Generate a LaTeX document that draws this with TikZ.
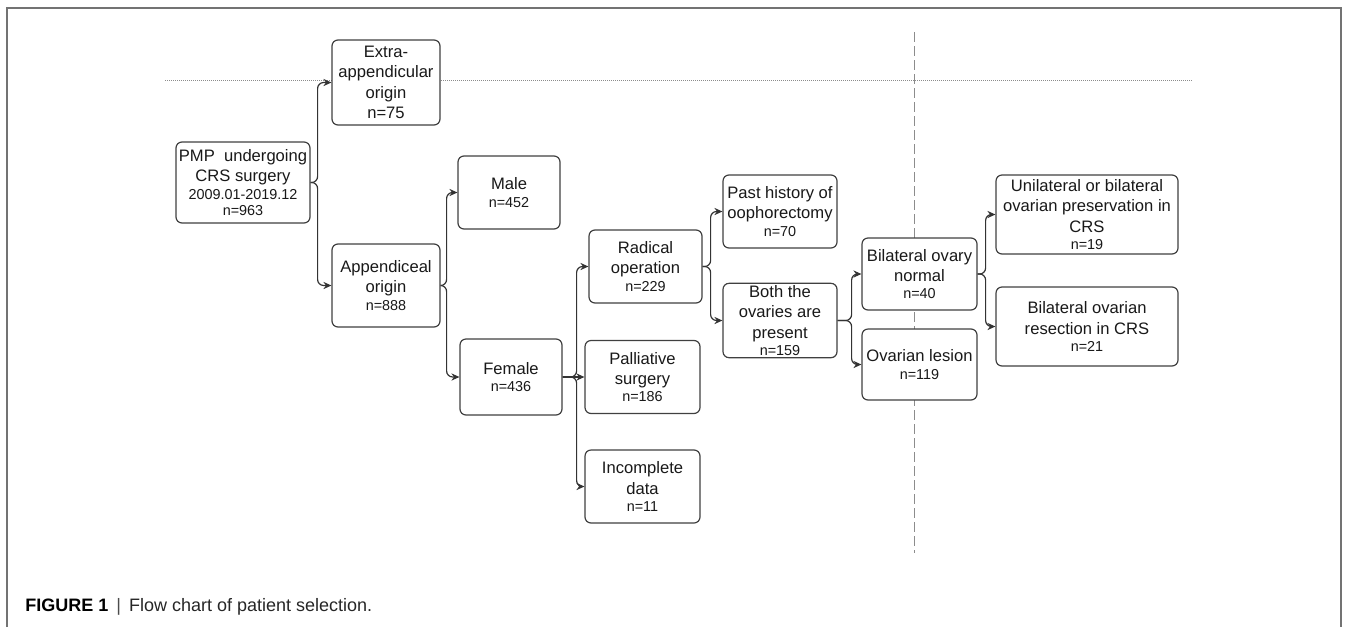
\documentclass[tikz,border=0pt]{standalone}
\usepackage{fontspec}
\setmainfont{Liberation Sans}
\usetikzlibrary{arrows.meta}
\newcommand{\nsmall}[1]{{\fontsize{7.2}{8}\selectfont #1}}

\begin{document}
\begin{tikzpicture}[x=0.5pt, y=-0.5pt, box/.style={draw=black!75, line width=0.6pt, rounded corners=3pt, fill=white, align=center, inner sep=1pt, text=black!90, font=\fontsize{8.3}{10.2}\selectfont}, conn/.style={draw=black!80, line width=0.6pt, rounded corners=3pt, -{Stealth[length=4pt, width=3.6pt]}}]
			\useasboundingbox (0,0) rectangle (1347,627);
			\draw[black!55, line width=0.7pt] (7,627) -- (7,8) -- (1341,8) -- (1341,627);
			\draw[black!45, line width=0.5pt, dash pattern=on 0.5pt off 0.5pt] (165,80) -- (1192,80);
			\draw[black!45, line width=0.5pt, dash pattern=on 5pt off 2pt] (914,32) -- (914,553);
			\node[box, minimum width=67pt, minimum height=40.5pt] (pmp) at (243,182.5) {PMP\ \ undergoing\\ CRS surgery\\[-1.5pt] \nsmall{2009.01-2019.12}\\[-2pt] \nsmall{n=963}};
			\node[box, minimum width=54pt, minimum height=42.5pt] (extra) at (386,82.5) {Extra-\\ appendicular\\ origin\\ n=75};
			\node[box, minimum width=54pt, minimum height=41.5pt] (app) at (386,285.5) {Appendiceal\\ origin\\[-1.5pt] \nsmall{n=888}};
			\node[box, minimum width=51pt, minimum height=36.5pt] (male) at (509,192.5) {Male\\[-1.5pt] \nsmall{n=452}};
			\node[box, minimum width=51pt, minimum height=38pt] (female) at (511,377) {Female\\[-1.5pt] \nsmall{n=436}};
			\node[box, minimum width=56.5pt, minimum height=36.5pt] (radical) at (645.5,266.5) {Radical\\ operation\\[-1.5pt] \nsmall{n=229}};
			\node[box, minimum width=57.5pt, minimum height=36.5pt] (pall) at (642.5,377) {Palliative\\ surgery\\[-1.5pt] \nsmall{n=186}};
			\node[box, minimum width=57.5pt, minimum height=36.5pt] (incomp) at (642.5,486.5) {Incomplete\\ data\\[-1.5pt] \nsmall{n=11}};
			\node[box, minimum width=57pt, minimum height=36.5pt] (past) at (780,211.5) {Past history of\\ oophorectomy\\[-1.5pt] \nsmall{n=70}};
			\node[box, minimum width=57pt, minimum height=36.5pt] (both) at (780,320.5) {Both the\\ ovaries are\\ present\\[-1.5pt] \nsmall{n=159}};
			\node[box, minimum width=57.5pt, minimum height=36pt] (bon) at (919.5,274) {Bilateral ovary\\ normal\\[-1.5pt] \nsmall{n=40}};
			\node[box, minimum width=57.5pt, minimum height=35.5pt] (lesion) at (919.5,364.5) {Ovarian lesion\\[-1.5pt] \nsmall{n=119}};
			\node[box, minimum width=91pt, minimum height=39.5pt] (unil) at (1087,214.5) {Unilateral or bilateral\\ ovarian preservation in\\ CRS\\[-1.5pt] \nsmall{n=19}};
			\node[box, minimum width=91pt, minimum height=39.5pt] (resec) at (1087,326.5) {Bilateral ovarian\\ resection in CRS\\[-1.5pt] \nsmall{n=21}};
			\draw[conn] (pmp.east) -- ++(7,0) |- (extra.west);
			\draw[conn] (pmp.east) -- ++(7,0) |- (app.west);
			\draw[conn] (app.east) -- ++(6,0) |- (male.west);
			\draw[conn] (app.east) -- ++(6,0) |- (female.west);
			\draw[conn] (female.east) -- ++(14,0) |- (radical.west);
			\draw[conn] (female.east) -- (pall.west);
			\draw[conn] (female.east) -- ++(14,0) |- (incomp.west);
			\draw[conn] (radical.east) -- ++(8,0) |- (past.west);
			\draw[conn] (radical.east) -- ++(8,0) |- (both.west);
			\draw[conn] (both.east) -- ++(14,0) |- (bon.west);
			\draw[conn] (both.east) -- ++(14,0) |- (lesion.west);
			\draw[conn] (bon.east) -- ++(8,0) |- (unil.west);
			\draw[conn] (bon.east) -- ++(8,0) |- (resec.west);
			\node[anchor=west, inner sep=0pt, font=\fontsize{9}{11}\selectfont] (caption) at (25,607) {\textbf{FIGURE 1}\hspace{4pt}{\color{black!70}|}\hspace{4pt}{\color{black!85}Flow chart of patient selection.}};
\end{tikzpicture}
\end{document}
